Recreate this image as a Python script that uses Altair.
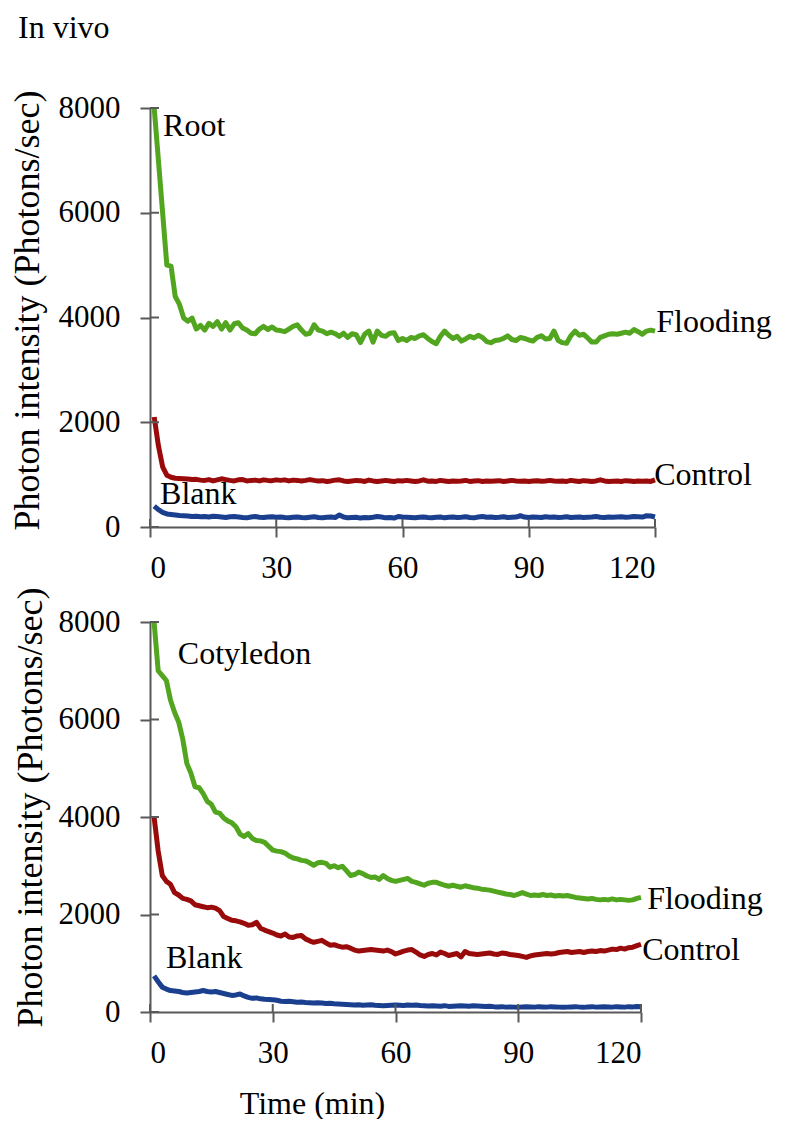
import altair as alt
import pandas as pd

FONT = "Liberation Serif"

minutes = list(range(1, 121))

# ---------------- Root panel (top) ----------------
root_flooding = [
    8000, 7000, 6000, 5000, 4980, 4400, 4250, 3990, 3930, 3990,
    3780, 3850, 3760, 3890, 3830, 3920, 3780, 3900, 3760, 3880,
    3900, 3800, 3760, 3700, 3690, 3780, 3830, 3770, 3820, 3760,
    3750, 3730, 3780, 3830, 3860, 3760, 3680, 3700, 3860, 3760,
    3740, 3690, 3720, 3690, 3640, 3700, 3620, 3690, 3670, 3520,
    3680, 3740, 3530, 3740, 3660, 3640, 3700, 3710, 3560, 3600,
    3560, 3620, 3600, 3650, 3670, 3600, 3540, 3500, 3640, 3740,
    3660, 3600, 3640, 3550, 3590, 3640, 3610, 3660, 3620, 3540,
    3520, 3560, 3570, 3600, 3650, 3580, 3560, 3620, 3600, 3570,
    3550, 3620, 3650, 3590, 3600, 3740, 3560, 3520, 3510, 3650,
    3740, 3660, 3680, 3610, 3530, 3530, 3620, 3650, 3680, 3690,
    3680, 3700, 3720, 3700, 3770, 3730, 3680, 3740, 3760, 3740,
]
root_control = [
    2100, 1550, 1150, 990, 950, 930, 925, 920, 915, 905,
    910, 895, 890, 905, 880, 900, 920, 905, 890, 880,
    900, 905, 880, 890, 895, 880, 900, 890, 885, 900,
    890, 900, 880, 895, 890, 880, 890, 905, 890, 880,
    885, 870, 880, 895, 900, 880, 870, 880, 890, 885,
    870, 895, 880, 870, 880, 890, 880, 870, 885, 880,
    890, 880, 870, 880, 900, 875, 880, 870, 890, 880,
    870, 880, 875, 880, 890, 870, 880, 885, 870, 880,
    875, 880, 885, 870, 880, 890, 880, 875, 880, 870,
    880, 885, 875, 880, 890, 880, 875, 880, 870, 890,
    880, 870, 885, 880, 870, 880, 900, 880, 870, 875,
    880, 870, 885, 880, 870, 880, 875, 880, 870, 900,
]
root_blank = [
    400, 330, 280, 250, 240, 230, 220, 215, 210, 200,
    205, 195, 200, 190, 205, 200, 190, 180, 195, 200,
    190, 180, 175, 190, 200, 185, 180, 190, 195, 185,
    190, 180, 175, 185, 190, 180, 175, 185, 195, 180,
    175, 185, 190, 180, 230, 190, 175, 180, 185, 170,
    180, 175, 185, 200, 190, 175, 180, 170, 200, 190,
    185, 180, 175, 185, 190, 180, 175, 185, 190, 175,
    185, 190, 180, 185, 195, 180, 175, 190, 200, 185,
    190, 180, 185, 195, 180, 185, 190, 215, 190, 180,
    190, 185, 180, 195, 185, 190, 180, 185, 195, 180,
    185, 190, 180, 185, 190, 200, 185, 180, 190, 185,
    190, 195, 185, 190, 200, 195, 190, 215, 210, 190,
]

# ---------------- Cotyledon panel (bottom) ----------------
cot_flooding = [
    8000, 7000, 6900, 6800, 6400, 6150, 5950, 5600, 5100, 4900,
    4620, 4600, 4480, 4320, 4260, 4100, 4080, 3980, 3920, 3880,
    3800, 3650, 3600, 3660, 3560, 3520, 3510, 3480, 3400, 3320,
    3300, 3290, 3260, 3200, 3160, 3140, 3110, 3100, 3060, 3010,
    3060, 3070, 3050, 2970, 3000, 2960, 2990, 2900, 2800, 2820,
    2870, 2840, 2790, 2760, 2770, 2720, 2800, 2740, 2700, 2680,
    2700, 2720, 2740, 2680, 2660, 2630, 2600, 2640, 2660, 2660,
    2630, 2600, 2580, 2600, 2580, 2560, 2590, 2570, 2550, 2540,
    2520, 2510, 2500, 2480, 2460, 2440, 2420, 2410, 2390, 2420,
    2450, 2420, 2390, 2400, 2390, 2410, 2390, 2400, 2380, 2390,
    2380, 2390, 2370, 2350, 2340, 2330, 2320, 2330, 2310, 2300,
    2310, 2300, 2320, 2300, 2310, 2300, 2290, 2300, 2330, 2350,
]
cot_control = [
    4000, 3300, 2800, 2680, 2620, 2450, 2400, 2330, 2310, 2280,
    2200, 2180, 2160, 2140, 2150, 2130, 2080, 1960, 1920, 1880,
    1870, 1850, 1820, 1780, 1790, 1840, 1720, 1680, 1650, 1620,
    1580, 1560, 1600, 1540, 1530, 1560, 1570, 1500, 1460, 1430,
    1450, 1470, 1420, 1370, 1380, 1350, 1330, 1340, 1310, 1270,
    1250, 1260, 1270, 1280, 1270, 1260, 1250, 1270, 1240, 1190,
    1220, 1250, 1270, 1280, 1230, 1170, 1140, 1180, 1200, 1170,
    1230, 1200, 1160, 1180, 1200, 1130, 1240, 1200, 1190, 1180,
    1190, 1200, 1210, 1190, 1180, 1210, 1200, 1180, 1170, 1160,
    1140, 1120, 1150, 1170, 1180, 1190, 1200, 1190, 1200, 1220,
    1230, 1240, 1220, 1230, 1240, 1220, 1240, 1250, 1240, 1260,
    1250, 1270, 1290, 1280, 1310, 1290, 1320, 1330, 1360, 1390,
]
cot_blank = [
    740, 620, 510, 470, 440, 430, 420, 400, 390, 400,
    410, 420, 440, 420, 410, 420, 400, 380, 360, 340,
    350, 370, 330, 300, 280, 290, 270, 260, 255, 250,
    240, 220, 215, 220, 210, 200, 205, 195, 190, 185,
    190, 185, 175, 180, 170, 165, 160, 155, 150, 145,
    150, 140, 145, 150, 140, 135, 130, 135, 140, 145,
    140, 135, 145, 140, 145, 135, 130, 125, 130, 125,
    120, 130, 115, 120, 125, 130, 125, 120, 130, 125,
    120, 115, 120, 110, 105, 110, 100, 105, 100, 95,
    105, 110, 105, 100, 110, 105, 100, 110, 105, 100,
    95, 100, 105, 110, 100, 95, 105, 110, 100, 105,
    110, 105, 100, 110, 105, 100, 110, 105, 115, 110,
]

series_names = ["Flooding", "Control", "Blank"]
series_colors = ["#52a51e", "#990a0a", "#1b3f8f"]

x_ticks = [0, 30, 60, 90, 120]
y_ticks = [0, 2000, 4000, 6000, 8000]

# annotation labels (data coordinates)
root_labels = ["Root", "Flooding", "Control", "Blank"]
root_label_x = [3.1, 120.3, 119.8, 2.4]
root_label_y = [7470, 3720, 800, 440]

cot_labels = ["Cotyledon", "Flooding", "Control", "Blank"]
cot_label_x = [6.8, 121.5, 120.3, 3.9]
cot_label_y = [7140, 2110, 1070, 900]

AXIS_COLOR = "#595959"


def long_df(values_list):
    rows = []
    for name, vals in zip(series_names, values_list):
        for t, v in zip(minutes, vals):
            rows.append({"time": t, "value": v, "series": name})
    return pd.DataFrame(rows)


def panel(values_list, labels, lx, ly, w, h, y_title_x, y_title_y, x_title, extra=None):
    df = long_df(values_list)
    xscale = alt.Scale(domain=[0, 120], nice=False, zero=False)
    yscale = alt.Scale(domain=[0, 8000], nice=False)

    common = dict(
        grid=False, domainColor=AXIS_COLOR, domainWidth=2,
        tickColor=AXIS_COLOR, tickWidth=2, tickSize=10,
        labelFont=FONT, labelFontSize=31, labelColor="black",
    )

    x_axis_kwargs = dict(values=x_ticks, format="d", labelPadding=16, **common)
    if x_title:
        x_axis_kwargs.update(
            title=x_title, titleX=162, titleY=101, titleAlign="center",
            titleBaseline="alphabetic", titleFontSize=32,
            titleFontWeight="normal", titleFont=FONT, titleColor="black",
        )
    else:
        x_axis_kwargs.update(title=None)

    lines = alt.Chart(df).mark_line(strokeWidth=5, strokeJoin="round", strokeCap="butt").encode(
        x=alt.X("time:Q", scale=xscale, axis=alt.Axis(**x_axis_kwargs)),
        y=alt.Y(
            "value:Q", scale=yscale,
            axis=alt.Axis(
                values=y_ticks, format="d", labelPadding=20,
                title="Photon intensity (Photons/sec)",
                titleAngle=270, titleX=y_title_x, titleY=y_title_y,
                titleAlign="center", titleBaseline="alphabetic",
                titleFontSize=36, titleFontWeight="normal", titleFont=FONT,
                titleColor="black", **common,
            ),
        ),
        color=alt.Color("series:N", scale=alt.Scale(domain=series_names, range=series_colors), legend=None),
        detail="series:N",
    )

    ytick_df = pd.DataFrame({"v": y_ticks})
    inner_y = alt.Chart(ytick_df).mark_rule(color=AXIS_COLOR, strokeWidth=2).encode(
        y=alt.Y("v:Q", scale=yscale),
        x=alt.value(0), x2=alt.value(9),
    )
    xtick_df = pd.DataFrame({"v": x_ticks})
    inner_x = alt.Chart(xtick_df).mark_rule(color=AXIS_COLOR, strokeWidth=2).encode(
        x=alt.X("v:Q", scale=xscale),
        y=alt.value(h), y2=alt.value(h - 8),
    )

    lab_df = pd.DataFrame({"label": labels, "x": lx, "y": ly})
    texts = alt.Chart(lab_df).mark_text(
        align="left", baseline="alphabetic", font=FONT, fontSize=32, color="black"
    ).encode(
        x=alt.X("x:Q", scale=xscale),
        y=alt.Y("y:Q", scale=yscale),
        text="label:N",
    )

    layers = [lines, inner_y, inner_x, texts]
    if extra is not None:
        layers.append(extra)
    return alt.layer(*layers).properties(width=w, height=h)


title_df = pd.DataFrame({"t": ["In vivo"]})
in_vivo = alt.Chart(title_df).mark_text(
    align="left", baseline="alphabetic", font=FONT, fontSize=32, color="black"
).encode(x=alt.value(-132), y=alt.value(-70), text="t:N")

top = panel(
    [root_flooding, root_control, root_blank], root_labels, root_label_x, root_label_y,
    505, 419, -112, 202, None, extra=in_vivo,
)
bottom = panel(
    [cot_flooding, cot_control, cot_blank], cot_labels, cot_label_x, cot_label_y,
    491, 390, -109, 185, "Time (min)",
)

chart = alt.vconcat(top, bottom, spacing=4).properties(
    padding={"left": 0, "top": 4, "right": 0, "bottom": 0}, background="white"
).configure_view(stroke=None)

chart.save("out.html", embed_options={"renderer": "svg", "actions": False})
